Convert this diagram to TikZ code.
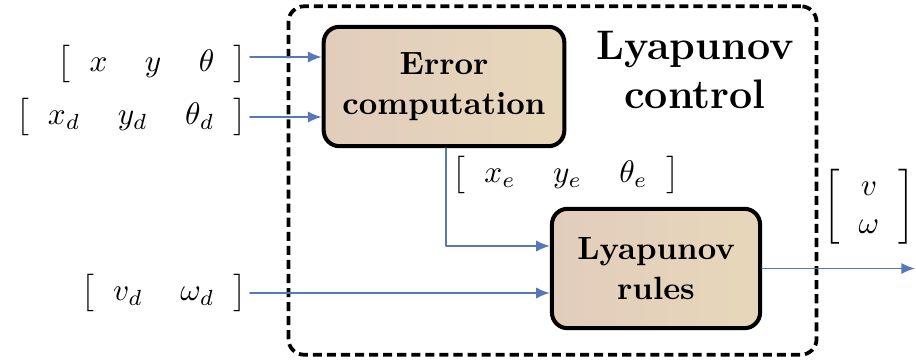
\documentclass[tikz,border=0pt]{standalone}
\usepackage{amsmath}
\usetikzlibrary{arrows.meta}
\definecolor{flowblue}{RGB}{88,118,186}
\definecolor{boxleft}{RGB}{226,205,189}
\definecolor{boxright}{RGB}{231,215,186}
\newcommand{\sigvec}[2]{\left[\arraycolsep=6pt\begin{array}{#1} #2 \end{array}\right]}
\begin{document}
\begin{tikzpicture}[x=0.32pt,y=-0.32pt,line cap=round,line join=round,>={Latex[length=4.4pt,width=3.6pt]},
    block/.style={draw,line width=1.3pt,rounded corners=5pt,left color=boxleft,right color=boxright,
      align=center,inner sep=0pt,font=\fontsize{10.3}{12.8}\selectfont\bfseries},
    frame/.style={draw,line width=1.2pt,line cap=butt,dash pattern=on 2.9pt off 1.6pt,rounded corners=5pt,inner sep=0pt},
    sig/.style={inner sep=1pt},
    flow/.style={->,flowblue,line width=0.55pt}]
  \useasboundingbox (0,0) rectangle (916,363);
  % dashed controller frame
  \node[frame,minimum width=169pt,minimum height=111.5pt] (ctrl) at (552.5,180.5) {};
  \node[font=\fontsize{13.2}{15.7}\selectfont\bfseries,align=center] (title) at (695,70) {Lyapunov\\control};
  % blocks
  \node[block,minimum width=77pt,minimum height=38.2pt] (err) at (444,86.5) {Error\\computation};
  \node[block,minimum width=66.6pt,minimum height=38.2pt] (rules) at (656,268.5) {Lyapunov\\rules};
  % signals
  \node[sig,anchor=east] (pose) at (250,64) {$\sigvec{ccc}{x & y & \theta}$};
  \node[sig,anchor=east] (pref) at (250,117) {$\sigvec{ccc}{x_d & y_d & \theta_d}$};
  \node[sig,anchor=east] (vref) at (250,293) {$\sigvec{cc}{v_d & \omega_d}$};
  \node[sig] (perr) at (566,175) {$\sigvec{ccc}{x_e & y_e & \theta_e}$};
  \node[sig] (cmd) at (869,207) {$\sigvec{c}{v \\ \omega}$};
  \coordinate (ps) at (250,57);
  \coordinate (rs) at (250,117);
  \coordinate (vs) at (250,293);
  \coordinate (os) at (915,268);
  \draw[flow] (ps) -- (ps -| err.west);
  \draw[flow] (rs) -- (rs -| err.west);
  \draw[flow] ([xshift=0.6pt]err.south) |- ([yshift=7.2pt]rules.west);
  \draw[flow] (vs) -- (vs -| rules.west);
  \draw[flow] (rules.east) -- (rules.east -| os);
\end{tikzpicture}
\end{document}
